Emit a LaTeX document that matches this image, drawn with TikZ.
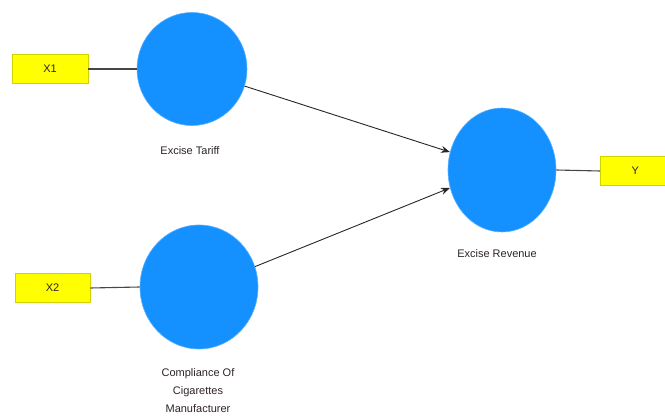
\documentclass[tikz,border=0pt]{standalone}
\usepackage{fontspec}
\setmainfont{Liberation Sans}
\usetikzlibrary{arrows.meta,shapes.geometric}
\definecolor{circblue}{RGB}{20,145,255}
\definecolor{boxyellow}{RGB}{255,255,0}
\definecolor{boxedge}{RGB}{210,210,0}
\definecolor{linegray}{RGB}{70,70,70}
\definecolor{txt}{RGB}{45,35,40}
\tikzset{
  latent/.style={ellipse, fill=circblue, draw=circblue!70!white, line width=0.6pt, inner sep=0pt},
  indicator/.style={rectangle, fill=boxyellow, draw=boxedge, line width=0.8pt, minimum height=29pt, inner sep=0pt, font=\fontsize{11}{12}\selectfont, text=txt},
  lbl/.style={font=\fontsize{11}{18}\selectfont, text=txt, align=center},
  conn/.style={draw=linegray, line width=1.1pt},
  path/.style={draw=black!85, line width=0.9pt, -{Stealth[length=9pt,width=7pt]}}
}
\begin{document}
\begin{tikzpicture}[x=1pt,y=-1pt]
\useasboundingbox (0,0) rectangle (665,419);
\node[latent, minimum width=110pt, minimum height=113pt] (ET) at (192,69) {};
\node[latent, minimum width=118pt, minimum height=124pt] (CC) at (199,287) {};
\node[latent, minimum width=108pt, minimum height=124pt] (ER) at (502,170) {};
\node[indicator, minimum width=76pt] (X1) at (50,69) {X1};
\node[indicator, minimum width=75pt] (X2) at (52.5,288) {X2};
\node[indicator, minimum width=70pt, anchor=west] (Y) at (600,171) {Y};
\node[lbl] (lET) at (190,151) {Excise Tariff};
\node[lbl] (lER) at (497,254) {Excise Revenue};
\node[lbl] (lCC) at (198,391) {Compliance Of\\Cigarettes\\Manufacturer};
\draw[conn] (X1.east) -- (ET.west);
\draw[conn] (X2.east) -- (CC.west);
\draw[conn] (ER.east) -- (Y.west);
\draw[path] (ET.-18) -- (ER.161);
\draw[path] (CC.20) -- (ER.199);
\end{tikzpicture}
\end{document}
